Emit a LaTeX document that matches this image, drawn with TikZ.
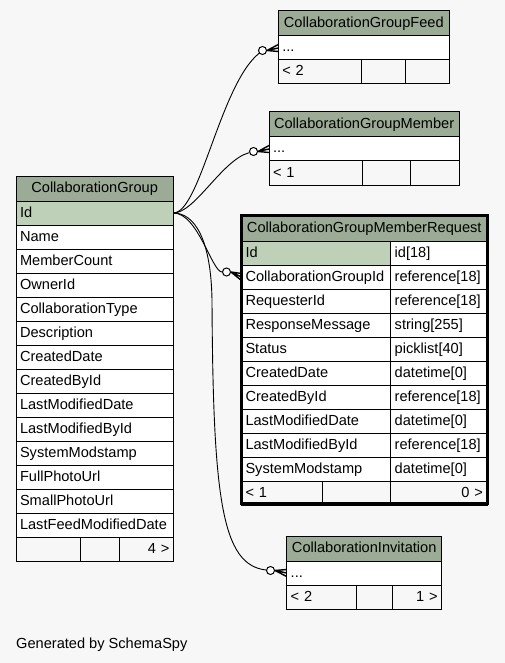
\documentclass[tikz,border=0pt]{standalone}
\usepackage{fontspec}
\setmainfont{Liberation Sans}
\definecolor{headgreen}{HTML}{9BAB96}
\definecolor{keygreen}{HTML}{BED1B8}
\definecolor{pagegray}{HTML}{F7F7F7}
\newcommand\tblfont{\fontsize{14.6}{17}\selectfont}
\tikzset{
  cell/.style={draw, line width=1pt, anchor=north west, outer sep=0pt, inner xsep=4pt, inner ysep=0pt,
    minimum height=24pt, text height=11pt, text depth=3pt, font=\tblfont},
  headcell/.style={cell, fill=headgreen, minimum height=25pt, align=center},
  keycell/.style={cell, fill=keygreen, align=left},
  fieldcell/.style={cell, fill=white, align=left},
  footcell/.style={cell, fill=pagegray, align=left},
  footright/.style={cell, fill=pagegray, align=right},
  ring/.style={circle, draw, fill=white, line width=1pt, inner sep=0pt, minimum size=8pt},
  relation/.style={line width=0.9pt},
  crow/.style={line width=1.4pt}
}
\begin{document}
\begin{tikzpicture}[x=1pt, y=-1pt]
% Page background
\fill[pagegray] (0,0) rectangle (505,663);

% CollaborationGroup
\node[headcell, text width=149.3] (cg-head) at (16,176) {CollaborationGroup};
\node[keycell, text width=149.3] (cg-id) at (16,201) {Id};
\node[fieldcell, text width=149.3] (cg-name) at (16,225) {Name};
\node[fieldcell, text width=149.3] (cg-count) at (16,249) {MemberCount};
\node[fieldcell, text width=149.3] (cg-owner) at (16,273) {OwnerId};
\node[fieldcell, text width=149.3] (cg-type) at (16,297) {CollaborationType};
\node[fieldcell, text width=149.3] (cg-desc) at (16,321) {Description};
\node[fieldcell, text width=149.3] (cg-created) at (16,345) {CreatedDate};
\node[fieldcell, text width=149.3] (cg-createdby) at (16,369) {CreatedById};
\node[fieldcell, text width=149.3] (cg-modified) at (16,393) {LastModifiedDate};
\node[fieldcell, text width=149.3] (cg-modifiedby) at (16,417) {LastModifiedById};
\node[fieldcell, text width=149.3] (cg-stamp) at (16,441) {SystemModstamp};
\node[fieldcell, text width=149.3] (cg-full) at (16,465) {FullPhotoUrl};
\node[fieldcell, text width=149.3] (cg-small) at (16,489) {SmallPhotoUrl};
\node[fieldcell, text width=149.3] (cg-feed) at (16,513) {LastFeedModifiedDate};
\node[footcell, text width=56] (cg-foot1) at (16,537) {};
\node[footcell, text width=31.3] (cg-foot2) at (80,537) {};
\node[footright, text width=46] (cg-foot3) at (119.3,537) {4 >};

% CollaborationGroupFeed
\node[headcell, text width=163] (feed-head) at (278.3,11) {CollaborationGroupFeed};
\node[fieldcell, text width=163] (feed-row) at (278.3,36) {...};
\node[footcell, text width=74.7] (feed-foot1) at (278.3,60) {< 2};
\node[footcell, text width=36] (feed-foot2) at (361,60) {};
\node[footcell, text width=36.3] (feed-foot3) at (405,60) {};

% CollaborationGroupMember
\node[headcell, text width=182.3] (member-head) at (269,112) {CollaborationGroupMember};
\node[fieldcell, text width=182.3] (member-row) at (269,137) {...};
\node[footcell, text width=85.3] (member-foot1) at (269,161) {< 1};
\node[footcell, text width=39.7] (member-foot2) at (362.3,161) {};
\node[footcell, text width=41.3] (member-foot3) at (410,161) {};

% CollaborationGroupMemberRequest
\node[headcell, text width=237.5] (req-head) at (241.5,216) {CollaborationGroupMemberRequest};
\node[keycell, text width=141.2] (req-id) at (241.5,241) {Id};
\node[fieldcell, text width=88.3] (req-id-t) at (390.7,241) {id[18]};
\node[fieldcell, text width=141.2] (req-groupid) at (241.5,265) {CollaborationGroupId};
\node[fieldcell, text width=88.3] (req-groupid-t) at (390.7,265) {reference[18]};
\node[fieldcell, text width=141.2] (req-requester) at (241.5,289) {RequesterId};
\node[fieldcell, text width=88.3] (req-requester-t) at (390.7,289) {reference[18]};
\node[fieldcell, text width=141.2] (req-message) at (241.5,313) {ResponseMessage};
\node[fieldcell, text width=88.3] (req-message-t) at (390.7,313) {string[255]};
\node[fieldcell, text width=141.2] (req-status) at (241.5,337) {Status};
\node[fieldcell, text width=88.3] (req-status-t) at (390.7,337) {picklist[40]};
\node[fieldcell, text width=141.2] (req-created) at (241.5,361) {CreatedDate};
\node[fieldcell, text width=88.3] (req-created-t) at (390.7,361) {datetime[0]};
\node[fieldcell, text width=141.2] (req-createdby) at (241.5,385) {CreatedById};
\node[fieldcell, text width=88.3] (req-createdby-t) at (390.7,385) {reference[18]};
\node[fieldcell, text width=141.2] (req-modified) at (241.5,409) {LastModifiedDate};
\node[fieldcell, text width=88.3] (req-modified-t) at (390.7,409) {datetime[0]};
\node[fieldcell, text width=141.2] (req-modifiedby) at (241.5,433) {LastModifiedById};
\node[fieldcell, text width=88.3] (req-modifiedby-t) at (390.7,433) {reference[18]};
\node[fieldcell, text width=141.2] (req-stamp) at (241.5,457) {SystemModstamp};
\node[fieldcell, text width=88.3] (req-stamp-t) at (390.7,457) {datetime[0]};
\node[footcell, text width=73.2] (req-foot1) at (241.5,481) {< 1};
\node[footcell, text width=60] (req-foot2) at (322.7,481) {};
\node[footright, text width=88.3] (req-foot3) at (390.7,481) {0 >};
\draw[line width=3pt] (241.5,215.5) rectangle (487,503.5);

% CollaborationInvitation
\node[headcell, text width=147] (inv-head) at (286.7,536) {CollaborationInvitation};
\node[fieldcell, text width=147] (inv-row) at (286.7,561) {...};
\node[footcell, text width=61.3] (inv-foot1) at (286.7,585) {< 2};
\node[footcell, text width=28] (inv-foot2) at (356,585) {};
\node[footright, text width=41.7] (inv-foot3) at (392,585) {1 >};

% Relations out of CollaborationGroup.Id
\node[ring] (feed-o) at (262.5,50.5) {};
\node[ring] (member-o) at (253.5,151.5) {};
\node[ring] (req-o) at (226.5,272) {};
\node[ring] (inv-o) at (270.5,570.5) {};
\draw[relation] (cg-id.east) .. controls (200,213) and (220,85) .. (feed-o);
\draw[relation] (cg-id.east) .. controls (195,213) and (222,160) .. (member-o);
\draw[relation] (cg-id.east) .. controls (198,213) and (212,272) .. (req-o);
\draw[relation] (cg-id.east) .. controls (195,213) and (211,240) .. (212,300)
  .. controls (213,500) and (222,565) .. (inv-o);

% Crow's feet
\draw[crow] (feed-o.east) -- ([yshift=3.5pt]feed-row.west) (feed-o.east) -- (feed-row.west) (feed-o.east) -- ([yshift=-3.5pt]feed-row.west);
\draw[crow] (member-o.east) -- ([yshift=3.5pt]member-row.west) (member-o.east) -- (member-row.west) (member-o.east) -- ([yshift=-3.5pt]member-row.west);
\draw[crow] (req-o.east) -- ([yshift=3.5pt]req-groupid.west) (req-o.east) -- (req-groupid.west) (req-o.east) -- ([yshift=-3.5pt]req-groupid.west);
\draw[crow] (inv-o.east) -- ([yshift=3.5pt]inv-row.west) (inv-o.east) -- (inv-row.west) (inv-o.east) -- ([yshift=-3.5pt]inv-row.west);

\node[anchor=base west, font=\tblfont, inner sep=0pt] (credit) at (16,648) {Generated by SchemaSpy};
\end{tikzpicture}
\end{document}
